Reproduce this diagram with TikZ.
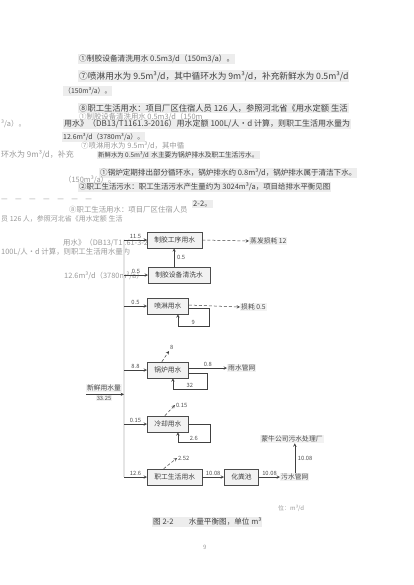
\documentclass[tikz,border=0pt]{standalone}
\usepackage{fontspec}
\setmainfont{Noto Sans CJK SC}
\usetikzlibrary{arrows,positioning,calc}
\newcommand{\fsz}[1]{\fontsize{#1}{9}\selectfont}

\begin{document}
\begin{tikzpicture}[
        x=1pt, y=-1pt,
        para/.style={anchor=west, inner sep=1pt, fill=gray!14, text=black!75, font=\fsz{8.3}},
        ghost/.style={anchor=west, inner sep=1pt, text=black!40, font=\fsz{7.4}},
        unit/.style={draw=black!70, fill=gray!10, minimum height=16pt, inner xsep=7pt, text=black!75, font=\fsz{6.8}, line width=0.6pt},
        sink/.style={inner sep=1pt, fill=gray!10, text=black!70, font=\fsz{6.8}},
        qty/.style={inner sep=0.8pt, text=black!70, font=\fsz{5.8}},
        flow/.style={draw=black!75, ->, >=stealth, line width=0.5pt},
        loss/.style={draw=black!75, ->, >=stealth, densely dashed, line width=0.5pt}
    ]
        \useasboundingbox (0,0) rectangle (413,585);

        % Text above the figure
        \node (t1) [para, font=\fsz{7.7}] at (78,59) {①制胶设备清洗用水 0.5m3/d（150m3/a）。};
        \node (t2) [para, font=\fsz{8.7}] at (78,76) {⑦喷淋用水为 9.5m³/d，其中循环水为 9m³/d，补充新鲜水为 0.5m³/d};
        \node (t3) [para, font=\fsz{6.8}] at (63,91) {（150m³/a）。};
        \node (t4) [para] at (78,108) {⑧职工生活用水：项目厂区住宿人员 126 人，参照河北省《用水定额 生活};
        \node (t5) [para, font=\fsz{8.0}] at (63,124) {用水》（DB13/T1161.3-2016）用水定额 100L/人·d 计算，则职工生活用水量为};
        \node (t6) [para, font=\fsz{6.9}] at (62,137) {12.6m³/d（3780m³/a）。};
        \node (t7a) [para, font=\fsz{6.4}] at (97,155) {新鲜水为 0.5m³/d};
        \node (t7b) [para, font=\fsz{6.7}, right=0pt of t7a] {水主要为锅炉排水及职工生活污水。};
        \node (t8) [para, font=\fsz{7.55}] at (99,173) {①锅炉定期排出部分循环水，锅炉排水约 0.8m³/d，锅炉排水属于清洁下水。};
        \node (t9) [para, font=\fsz{7.45}] at (78,187) {②职工生活污水：职工生活污水产生量约为 3024m³/a，项目给排水平衡见图};
        \node (t10) [para, font=\fsz{7.6}] at (192,204) {2-2。};

        % Faint overprinted text
        \node (g1) [ghost] at (78,117) {①制胶设备清洗用水 0.5m3/d（150m};
        \node (g2) [ghost] at (0,124) {³/a）。};
        \node (g3) [ghost] at (80,146) {⑦喷淋用水为 9.5m³/d，其中循};
        \node (g4) [ghost, font=\fsz{8}] at (0,155) {环水为 9m³/d，补充};
        \node (g5) [ghost] at (63,180) {（150m³/a）。};
        \node (g6) [ghost] at (0,200) {—　—　—　—　—　—　—};
        \node (g7) [ghost] at (68,210) {⑧职工生活用水：项目厂区住宿人员};
        \node (g8) [ghost, font=\fsz{7}] at (0,219) {员 126 人，参照河北省《用水定额 生活};
        \node (g9) [ghost] at (62,243) {用水》（DB13/T1161-3-2016）用水定额};
        \node (g10) [ghost] at (0,252) {100L/人·d 计算，则职工生活用水量为};
        \node (g11) [ghost] at (63,276) {12.6m³/d（3780m³/a）};

        % Units
        \node (glue) [unit, anchor=west] at (147,240) {制胶工序用水};
        \node (wash) [unit, anchor=west] at (148,275) {制胶设备清洗水};
        \node (spray) [unit, anchor=west] at (147,306) {喷淋用水};
        \node (boiler) [unit, anchor=west] at (147,370) {锅炉用水};
        \node (cool) [unit, anchor=west] at (147,424) {冷却用水};
        \node (staff) [unit, anchor=west] at (147,477) {职工生活用水};
        \node (septic) [unit, anchor=west] at (224,477) {化粪池};

        % Sinks
        \node (evap) [sink, anchor=west] at (249,241) {蒸发损耗 12};
        \node (sprayloss) [sink, anchor=west] at (240,307) {损耗 0.5};
        \node (rain) [sink, anchor=west] at (227,368) {雨水管网};
        \node (sewer) [sink, anchor=west] at (280,477) {污水管网};
        \node (plant) [sink] at (292,439) {蒙牛公司污水处理厂};
        \node (fresh) [sink] at (104,388) {新鲜用水量};
        \node (freshq) [qty, fill=gray!10, below=2.5pt of fresh] {33.25};

        % Trunk
        \coordinate (top) at (124,240);
        \coordinate (bot) at (124,477);
        \draw [draw=black!65, double=gray!20, double distance=1.2pt] (top) -- (bot);
        \draw [flow] ([yshift=-2pt]fresh.south west) -- ([yshift=-2pt]fresh.south west -| top);

        % Supply
        \draw [flow] (top) -- node[qty, above] {11.5} (glue);
        \draw [flow] (top |- wash.west) -- node[qty, above] {0.5} (wash.west);
        \draw [flow] (top |- spray.west) -- node[qty, above] {0.5} (spray.west);
        \draw [flow] (top |- boiler.west) -- node[qty, above] {8.8} (boiler.west);
        \draw [flow] (top |- cool.west) -- node[qty, above] {0.15} (cool.west);
        \draw [flow] (bot) -- node[qty, above] {12.6} (staff);
        \draw [flow] ([xshift=-5pt]wash.north) -- node[qty, right=2pt] {0.5} ([xshift=-5pt]wash.north |- glue.south);

        % Losses
        \draw [loss] (glue.east) -- (evap.west);
        \draw [loss] ([yshift=1pt]spray.east) -- (sprayloss.west);
        \node (boilerevap) [qty, anchor=south west] at (169,351) {8};
        \draw [loss] ([xshift=-6pt]boiler.north) -- (boilerevap.south west);
        \node (coolevap) [qty, anchor=west] at (175,405) {0.15};
        \draw [loss] ([xshift=-3pt]cool.north) -- (coolevap.west);
        \node (staffevap) [qty, anchor=west] at (177,458) {2.52};
        \draw [loss] ([xshift=-11pt]staff.north) -- (staffevap.west);

        % Recycling loops
        \draw [flow] ([yshift=-2pt]spray.east) -- ++(20,0) -- ++(0,18) -| node[qty, above, pos=0.25] {9} ([xshift=10pt]spray.south);
        \draw [flow] ([yshift=-3pt]boiler.east) -- ++(18,0) -- ++(0,16) -| node[qty, above, pos=0.25] {32} ([xshift=5pt]boiler.south);
        \draw [flow] (cool.east) -- ++(21,0) -- ++(0,18) -| node[qty, above, pos=0.25] {2.6} ([xshift=10pt]cool.south);

        % Drainage
        \draw [flow] ([yshift=2pt]boiler.east) -- node[qty, above] {0.8} (rain.west);
        \draw [flow] (staff) -- node[qty, above] {10.08} (septic);
        \draw [flow] (septic) -- node[qty, above] {10.08} (sewer.west);
        \draw [flow] (sewer.north) -- node[qty, right=2pt] {10.08} (sewer.north |- plant.south);

        % Caption
        \node (unitnote) [ghost, font=\fsz{6}] at (277,508) {位：m³/d};
        \node (cap) [para, font=\fsz{7.6}] at (152,522) {图 2-2　　水量平衡图，单位 m³};
        \node (page) [ghost, font=\fsz{6}] at (202,547) {9};
    \end{tikzpicture}
\end{document}
